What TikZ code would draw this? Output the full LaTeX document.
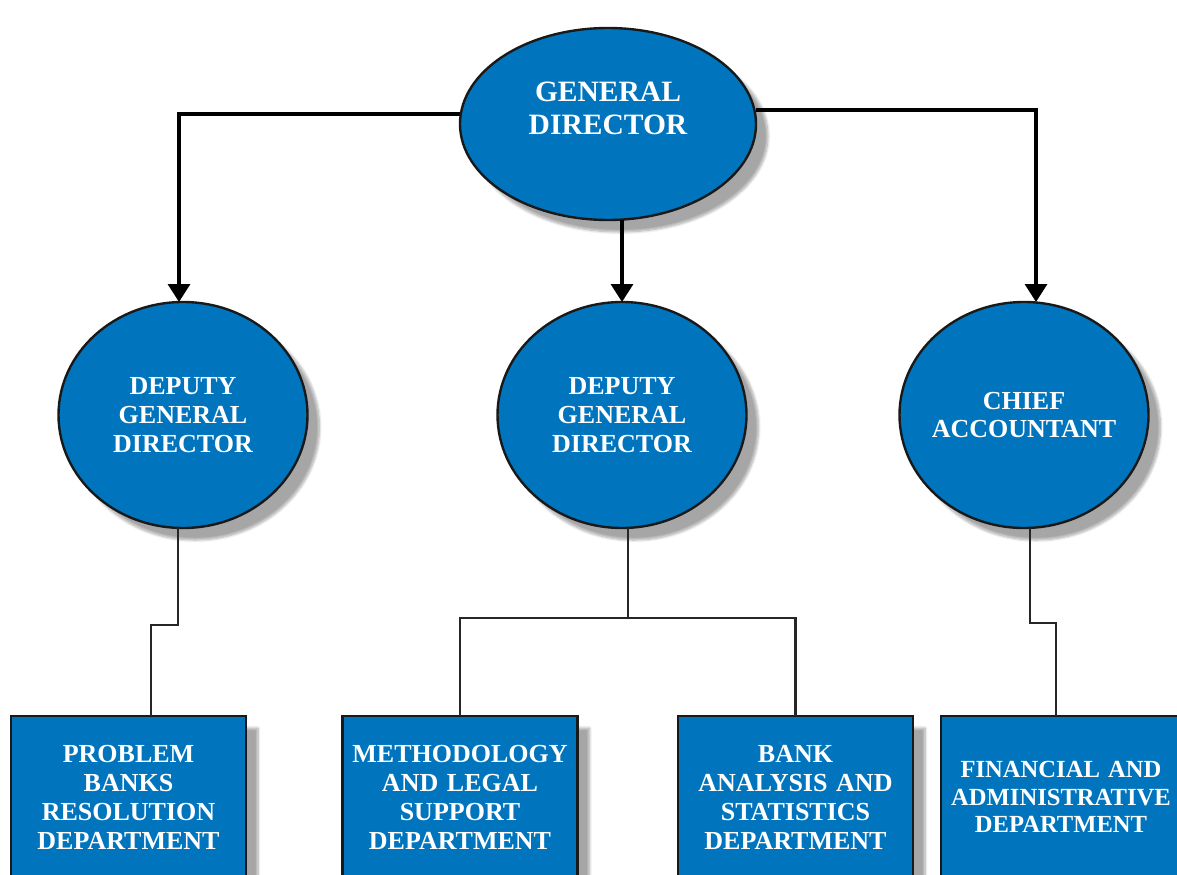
\documentclass[tikz,border=0pt]{standalone}
\usepackage{fontspec}
\setmainfont{Liberation Serif}
\usetikzlibrary{arrows.meta,positioning,shapes.geometric,shadows.blur}
\definecolor{orgblue}{RGB}{0,117,190}

\begin{document}
\begin{tikzpicture}[>={Triangle[width=0.55cm,length=0.45cm]},node distance=2cm]
  \tikzstyle{unit}=[draw=black!90,line width=1.7pt,fill=orgblue,text=white,font=\bfseries\fontsize{18.5}{20.6}\selectfont,align=center,outer sep=0pt,blur shadow={shadow xshift=0.3cm,shadow yshift=-0.3cm,shadow blur steps=8,shadow opacity=35}]
  \tikzstyle{oval}=[unit,ellipse,inner sep=-0.5cm,minimum width=6.225cm,minimum height=5.65cm]
  \tikzstyle{dept}=[unit,rectangle,line width=2pt,minimum width=5.875cm,minimum height=4.05cm,text width=5.7cm,inner sep=0pt]
  \tikzstyle{toptext}=[text=white,font=\bfseries\fontsize{21}{23.5}\selectfont,align=center]
  \tikzstyle{arr}=[line width=2.4pt,->]
  \tikzstyle{link}=[line width=1.6pt,draw=black!85]
  \useasboundingbox (0,0) rectangle (29.425,-21.85);
  \clip (0,0) rectangle (29.425,-21.85);
  % top of the chart
  \node[unit,ellipse,minimum width=7.4cm,minimum height=4.8cm,label={[toptext,yshift=0.4cm]center:{GENERAL\\DIRECTOR}}] (gd) at (15.2,-3.1) {};
  \node[oval,below=2.05cm of gd,xshift=0.35cm] (dm) {DEPUTY\\GENERAL\\DIRECTOR};
  \node[oval,left=4.75cm of dm] (dl) {DEPUTY\\GENERAL\\DIRECTOR};
  \node[oval,right=3.825cm of dm] (ca) {CHIEF\\ACCOUNTANT};
  % departments
  \node[dept,below=4.7cm of dl,xshift=-1.3625cm] (pb) {PROBLEM\\BANKS\\RESOLUTION\\DEPARTMENT};
  \node[dept,below=4.7cm of dm,xshift=-4.05cm] (ml) {METHODOLOGY\\AND LEGAL\\SUPPORT\\DEPARTMENT};
  \node[dept,below=4.7cm of dm,xshift=4.3375cm] (ba) {BANK\\ANALYSIS AND\\STATISTICS\\DEPARTMENT};
  \node[dept,below=4.7cm of ca,xshift=0.925cm,minimum width=6cm,font=\bfseries\fontsize{17.5}{19.5}\selectfont] (fa) {FINANCIAL AND\\ADMINISTRATIVE\\DEPARTMENT};
  \draw[arr] ([yshift=0.25cm]gd.west) -| ([xshift=-0.1cm]dl.north);
  \draw[arr] (gd.south -| dm.north) -- (dm.north);
  \draw[arr] ([yshift=0.35cm]gd.east) -| ([xshift=0.3cm]ca.north);
  \draw[link] ([xshift=-0.125cm]dl.south) -- ++(0,-2.425) -| ([xshift=0.5625cm]pb.north);
  \draw[link] ([xshift=0.15cm]dm.south) -- ++(0,-2.25) coordinate (split);
  \draw[link] (ml.north) |- (split) -| (ba.north);
  \draw[link] ([xshift=0.15cm]ca.south) -- ++(0,-2.375) -| ([xshift=-0.125cm]fa.north);
\end{tikzpicture}
\end{document}
